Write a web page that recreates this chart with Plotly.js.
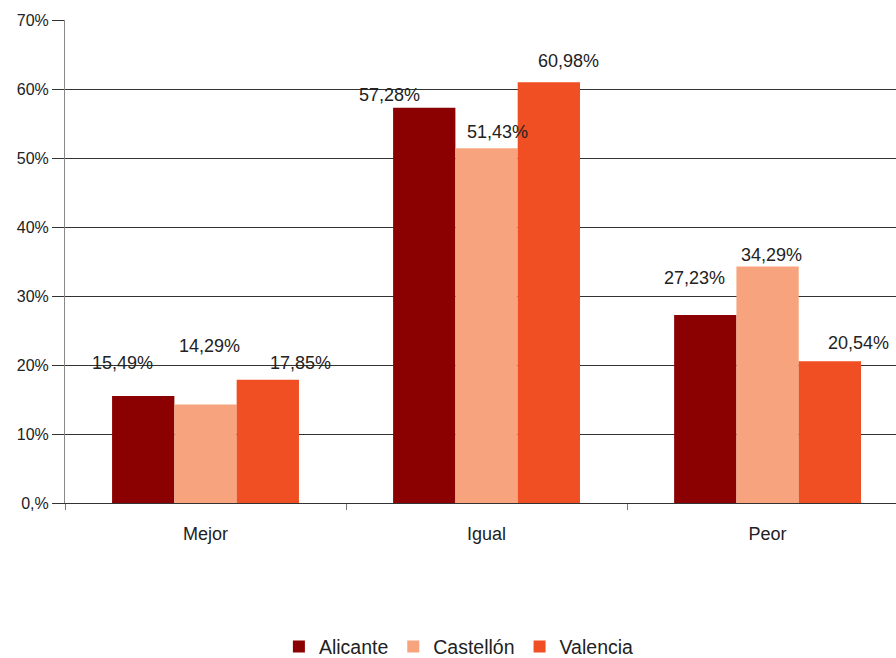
<!DOCTYPE html>
<html>
<head>
<meta charset="utf-8">
<script src="https://cdn.plot.ly/plotly-3.0.1.min.js"></script>
<style>html,body{margin:0;padding:0;background:#fff;}#chart{width:896px;height:658px;}</style>
</head>
<body>
<div id="chart"></div>
<script>
const categories = ["Mejor", "Igual", "Peor"];
const seriesNames = ["Alicante", "Castellón", "Valencia"];
const alicante = [15.49, 57.28, 27.23];
const castellon = [14.29, 51.43, 34.29];
const valencia = [17.85, 60.98, 20.54];
const yTickVals = [0, 10, 20, 30, 40, 50, 60, 70];
const yTickText = ["0,%", "10%", "20%", "30%", "40%", "50%", "60%", "70%"];

const colors = ["#8B0000", "#F7A47E", "#F04E23"];
const seriesValues = [alicante, castellon, valencia];

// label placement (pixel shifts from category centre / value level) per series, per category
const labelShiftX = [[-83, -97, -73], [4, 11, 4], [95, 82, 91]];
const labelShiftY = [[33, 13, 37], [58, 16, 11], [17, 21, 18]];

const fmt = v => v.toFixed(2).replace('.', ',') + '%';

const traces = seriesValues.map((vals, i) => ({
  type: 'bar',
  name: seriesNames[i],
  x: categories,
  y: vals,
  marker: {color: colors[i], line: {width: 0}},
  hoverinfo: 'none'
}));

const annotations = [];
seriesValues.forEach((vals, i) => {
  vals.forEach((v, j) => {
    annotations.push({
      x: categories[j], y: v, xref: 'x', yref: 'y',
      text: fmt(v), showarrow: false,
      xanchor: 'center', yanchor: 'middle',
      xshift: labelShiftX[i][j], yshift: labelShiftY[i][j],
      font: {family: 'Liberation Sans, Arial, sans-serif', size: 18, color: '#222'}
    });
  });
});

const layout = {
  width: 896, height: 658,
  margin: {l: 65, r: 0, t: 20, b: 155, autoexpand: false},
  paper_bgcolor: '#fff', plot_bgcolor: '#fff',
  barmode: 'group', bargap: 0.335, bargroupgap: 0,
  font: {family: 'Liberation Sans, Arial, sans-serif', color: '#222'},
  xaxis: {
    type: 'category', range: [-0.5, 2.457],
    showline: true, linecolor: '#333', linewidth: 1,
    ticks: 'outside', tickson: 'boundaries', ticklen: 6, tickcolor: '#777', tickwidth: 1,
    ticklabelstandoff: 14,
    showgrid: false, tickfont: {size: 18, color: '#222'}, fixedrange: true
  },
  yaxis: {
    range: [0, 70], tickvals: yTickVals, ticktext: yTickText,
    showline: true, linecolor: '#888', linewidth: 1,
    ticks: 'outside', ticklen: 12, tickcolor: '#333', tickwidth: 1,
    showgrid: true, gridcolor: '#333', gridwidth: 1, zeroline: false,
    tickfont: {size: 16, color: '#222'}, fixedrange: true
  },
  legend: {
    orientation: 'h', x: 0.474, xanchor: 'center', y: -0.298, yanchor: 'middle',
    font: {size: 19.5, color: '#222'}, traceorder: 'normal', itemwidth: 30
  },
  annotations: annotations,
  showlegend: true
};

Plotly.newPlot('chart', traces, layout, {displayModeBar: false, staticPlot: true});
</script>
</body>
</html>
